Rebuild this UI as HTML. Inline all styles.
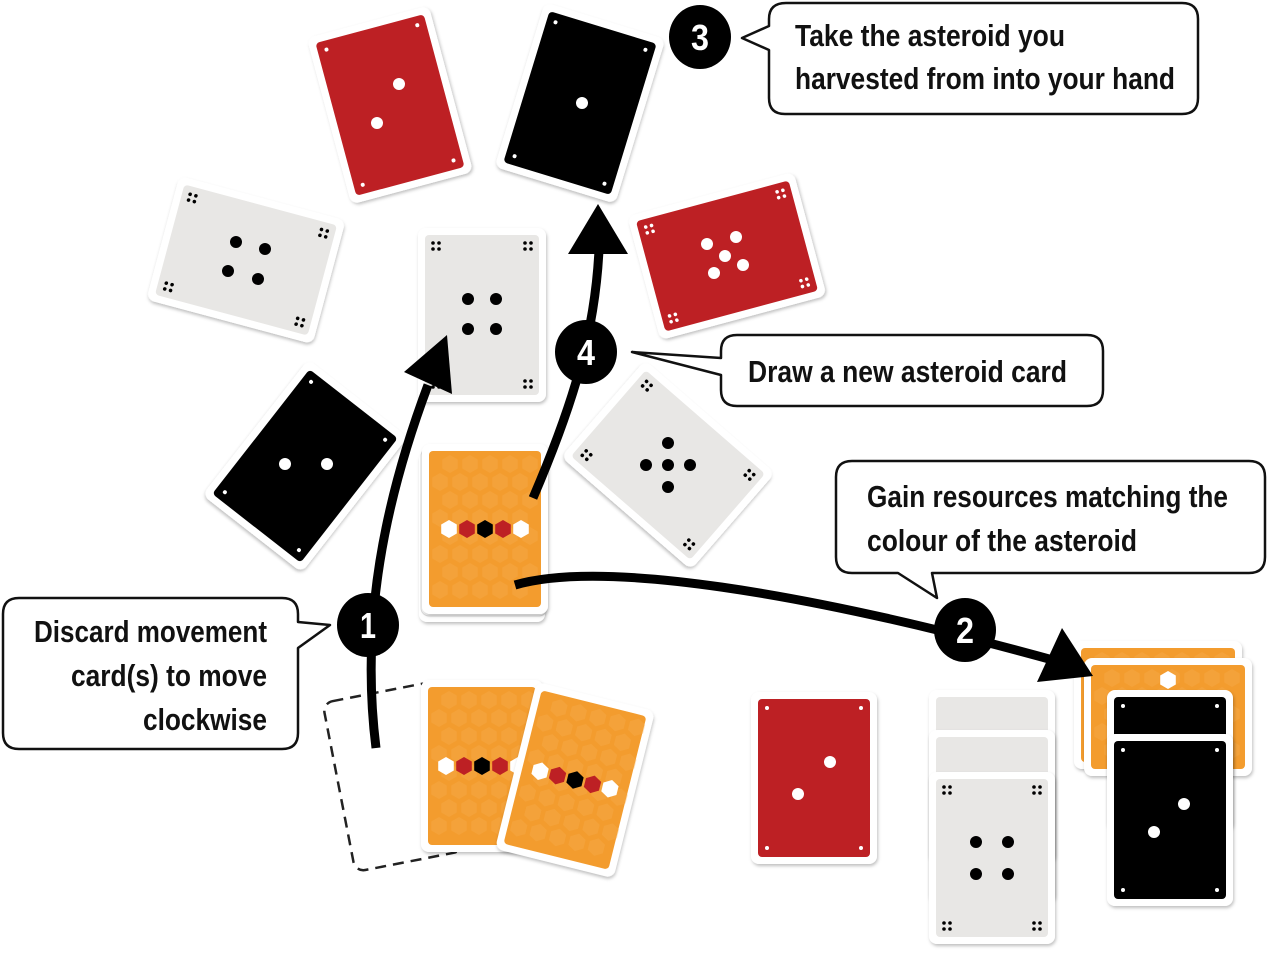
<!DOCTYPE html>
<html><head><meta charset="utf-8"><style>
html,body{margin:0;padding:0;background:#fff;width:1268px;height:954px;overflow:hidden}
svg{display:block}
.t{font-family:"Liberation Sans",sans-serif;font-weight:bold;font-size:31px;fill:#111}
.n{font-family:"Liberation Sans",sans-serif;font-weight:bold;font-size:36px;fill:#fff;text-anchor:middle}
</style></head><body>
<svg id="s" width="1268" height="954" viewBox="0 0 1268 954" xmlns="http://www.w3.org/2000/svg">
<defs>
<filter id="sh" x="-20%" y="-20%" width="140%" height="140%"><feDropShadow dx="1" dy="2" stdDeviation="1.5" flood-color="#000" flood-opacity="0.25"/></filter>
</defs>
<!-- dashed card -->
<g transform="translate(393,777) rotate(-11)"><rect x="-55" y="-86" width="110" height="172" rx="10" fill="none" stroke="#222" stroke-width="2.5" stroke-dasharray="11 7"/></g>
<g id="cards"></g>
<!-- arrows -->
<g fill="none" stroke="#000" stroke-width="9" stroke-linecap="butt">
<path d="M376 748 C360 620 385 500 428 385"/>
<path d="M533 498 C575 400 595 330 599 250"/>
<path d="M515 585 C600 560 800 590 1060 662"/>
</g>
<g fill="#000">
<polygon points="447,335 404,372 452,394"/>
<polygon points="598,204 568,254 628,254"/>
<polygon points="1093,676 1062,628 1037,682"/>
</g>
<!-- callouts -->
<g fill="#fff" stroke="#111" stroke-width="2.5" stroke-linejoin="round">
<path d="M786 3 H1182 Q1198 3 1198 19 V98 Q1198 114 1182 114 H785 Q769 114 769 98 V50 L742 38 L769 26 V19 Q769 3 786 3 Z"/>
<path d="M737 335 H1087 Q1103 335 1103 351 V390 Q1103 406 1087 406 H737 Q721 406 721 390 V375 L632 352 L721 358 V351 Q721 335 737 335 Z"/>
<path d="M852 461 H1249 Q1265 461 1265 477 V557 Q1265 573 1249 573 H932 L937 598 L898 573 H852 Q836 573 836 557 V477 Q836 461 852 461 Z"/>
<path d="M19 598 H282 Q298 598 298 614 V622 L330 625 L298 648 V733 Q298 749 282 749 H19 Q3 749 3 733 V614 Q3 598 19 598 Z"/>
</g>
<text class="t" x="795" y="46" textLength="270" lengthAdjust="spacingAndGlyphs">Take the asteroid you</text>
<text class="t" x="795" y="89" textLength="380" lengthAdjust="spacingAndGlyphs">harvested from into your hand</text>
<text class="t" x="748" y="382" textLength="319" lengthAdjust="spacingAndGlyphs">Draw a new asteroid card</text>
<text class="t" x="867" y="507" textLength="361" lengthAdjust="spacingAndGlyphs">Gain resources matching the</text>
<text class="t" x="867" y="551" textLength="270" lengthAdjust="spacingAndGlyphs">colour of the asteroid</text>
<text class="t" x="34" y="642" textLength="233" lengthAdjust="spacingAndGlyphs">Discard movement</text>
<text class="t" x="71" y="686" textLength="196" lengthAdjust="spacingAndGlyphs">card(s) to move</text>
<text class="t" x="143" y="730" textLength="124" lengthAdjust="spacingAndGlyphs">clockwise</text>
<!-- number circles -->
<g fill="#000">
<ellipse cx="368" cy="625" rx="31" ry="32"/><ellipse cx="965" cy="630" rx="31" ry="32"/>
<ellipse cx="700" cy="37" rx="31" ry="32"/><ellipse cx="586" cy="352" rx="31" ry="32"/>
</g>
<text class="n" x="368" y="638" textLength="16" lengthAdjust="spacingAndGlyphs">1</text>
<text class="n" x="965" y="643" textLength="18" lengthAdjust="spacingAndGlyphs">2</text>
<text class="n" x="700" y="50" textLength="18" lengthAdjust="spacingAndGlyphs">3</text>
<text class="n" x="586" y="365" textLength="18" lengthAdjust="spacingAndGlyphs">4</text>
</svg>
<script>
var NS="http://www.w3.org/2000/svg";
function el(p,t,a){var e=document.createElementNS(NS,t);for(var k in a)e.setAttribute(k,a[k]);p.appendChild(e);return e;}
var COL={r:"#bd2024",k:"#000",g:"#e8e7e5",o:"#f39c2e"};
function hexPts(x,y,r){var s="";for(var i=0;i<6;i++){var a=Math.PI/3*i+Math.PI/6;s+=(x+r*Math.cos(a)).toFixed(1)+","+(y+r*Math.sin(a)).toFixed(1)+" ";}return s;}
function card(par,cx,cy,rot,w,h,c,pips,opt){
  opt=opt||{};
  var g=el(par,"g",{transform:"translate("+cx+","+cy+") rotate("+rot+")"});
  el(g,"rect",{x:-w/2,y:-h/2,width:w,height:h,rx:8,fill:"#fff",filter:"url(#sh)"});
  el(g,"rect",{x:-w/2+7,y:-h/2+7,width:w-14,height:h-14,rx:4,fill:COL[c]});
  var pc=(c=="g")?"#000":"#fff";
  if(c=="o"){
    for(var yy=-h/2+20;yy<h/2-10;yy+=18)for(var xx=-w/2+18;xx<w/2-10;xx+=20){
      var off=(Math.round((yy+h/2)/18)%2)?10:0;
      el(g,"polygon",{points:hexPts(xx+off,yy,9),fill:"#f7b050",opacity:0.35});}
    if(opt.row!==undefined){var cols=["#fff","#bd2024","#000","#bd2024","#fff"];
      for(var i=0;i<5;i++)el(g,"polygon",{points:hexPts(-36+i*18,opt.row,9),fill:cols[i]});}
    if(opt.one!==undefined)el(g,"polygon",{points:hexPts(0,opt.one,9),fill:"#fff"});
  }
  if(opt.corner){var dx=w/2-18,dy=h/2-18;
    [[-dx,-dy],[dx,-dy],[-dx,dy],[dx,dy]].forEach(function(q){
      [[-3,-3],[3,-3],[-3,3],[3,3]].forEach(function(d){el(g,"circle",{cx:q[0]+d[0],cy:q[1]+d[1],r:1.8,fill:pc});});});}
  if(opt.c2){var dx2=w/2-16,dy2=h/2-16;
    [[-dx2,-dy2],[dx2,-dy2],[-dx2,dy2],[dx2,dy2]].forEach(function(q){el(g,"circle",{cx:q[0],cy:q[1],r:2,fill:pc});});}
  // pips in world-aligned coords
  var g2=el(par,"g",{transform:"translate("+cx+","+cy+")"});
  (pips||[]).forEach(function(p){el(g2,"circle",{cx:p[0],cy:p[1],r:p[2]||6,fill:pc});});
  return g;
}
var C=document.getElementById("cards");
card(C,390,105,-15,126,172,"r",[[9,-21],[-13,18]],{c2:1});
card(C,580,103,17,126,172,"k",[[2,0]],{c2:1});
card(C,246,260,15,172,128,"g",[[-10,-18],[19,-11],[-18,11],[12,19]],{corner:1});
card(C,482,315,0,128,174,"g",[[-14,-16],[14,-16],[-14,14],[14,14]],{corner:1});
card(C,727,256,-15,172,128,"r",[[-20,-12],[9,-19],[-2,0],[-13,17],[16,9]],{corner:1});
card(C,305,466,38,126,172,"k",[[-20,-2],[22,-2]],{c2:1});
card(C,668,465,41,172,128,"g",[[0,-22],[-22,0],[0,0],[22,0],[0,22]],{corner:1});
// orange deck
el(C,"rect",{x:419,y:452,width:126,height:170,rx:8,fill:"#fff",filter:"url(#sh)"});
el(C,"rect",{x:421,y:448,width:126,height:168,rx:8,fill:"#fff",stroke:"#ddd"});
card(C,485,529,0,126,170,"o",[],{row:0});
// bottom left orange
card(C,482,766,0,122,172,"o",[],{row:0});
card(C,575,780,14,122,172,"o",[],{row:0});
// bottom red
card(C,814,778,0,126,172,"r",[[16,-16],[-16,16]],{c2:1});
// gray stack
card(C,992,776,0,126,172,"g",[],{});
card(C,992,816,0,126,172,"g",[],{});
card(C,992,858,0,126,172,"g",[[-16,-16],[16,-16],[-16,16],[16,16]],{corner:1});
// orange stack right
card(C,1158,705,0,168,128,"o",[],{});
card(C,1168,717,0,168,118,"o",[],{one:-37});
card(C,1170,760,0,126,140,"k",[],{c2:1});
card(C,1170,820,0,126,172,"k",[[14,-16],[-16,12]],{c2:1});
</script>
</body></html>
